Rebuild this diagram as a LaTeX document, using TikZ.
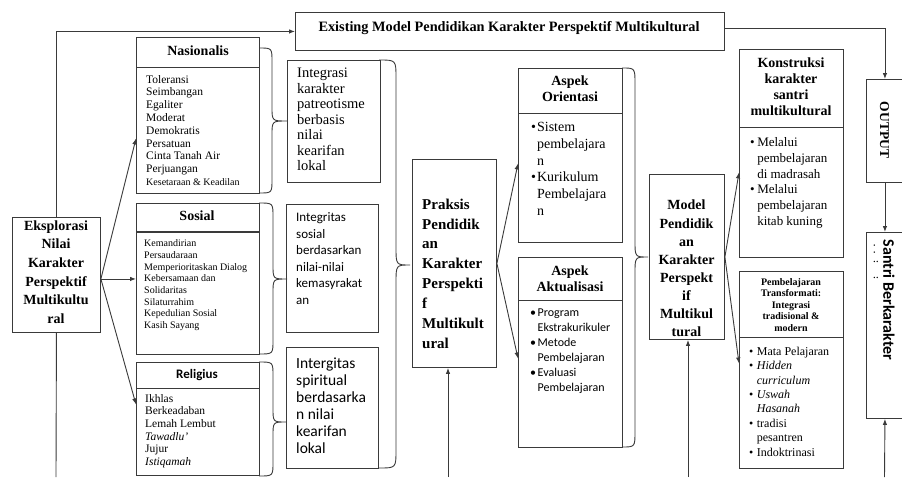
\documentclass[tikz,border=0pt]{standalone}
\usepackage{fontspec}
\setmainfont{Liberation Serif}
\newfontfamily\cali{Carlito}
\usetikzlibrary{arrows.meta}
\definecolor{linec}{HTML}{3A3A3A}
\newcommand\fs[2]{\fontsize{#1}{#2}\selectfont}
\newcommand\brc[7]{\draw[conn] (#1,#2) .. controls (#4,#2) .. (#4,#2+#7) -- (#4,#6-#7) .. controls (#4,#6) .. (#5,#6) .. controls (#4,#6) .. (#4,#6+#7) -- (#4,#3-#7) .. controls (#4,#3) .. (#1,#3);}
\begin{document}
\begin{tikzpicture}[x=1pt,y=-1pt,
  box/.style={draw=linec, line width=0.9pt, inner sep=0pt, anchor=north west},
  conn/.style={draw=linec, line width=0.9pt},
  arr/.style={conn, -{Latex[length=6pt,width=4.5pt]}},
  lst/.style={inner sep=0pt, anchor=north west, align=left},
  ttl/.style={inner sep=0pt, align=center}]
\useasboundingbox (0,0) rectangle (902,477);
\clip (0,0) rectangle (902,477);
\fill[white] (0,0) rectangle (902,477);

% boxes
\node[box, minimum width=429pt, minimum height=38pt] (exist) at (295,12) {};
\node[box, minimum width=88pt, minimum height=115pt] (eks) at (12,217) {};
\node[box, minimum width=123pt, minimum height=156pt] (nas) at (136,37) {};
\node[box, minimum width=123pt, minimum height=151pt] (sos) at (136,203) {};
\node[box, minimum width=123pt, minimum height=113pt] (rel) at (136,362) {};
\node[box, minimum width=93pt, minimum height=122pt] (int1) at (287,60) {};
\node[box, minimum width=92pt, minimum height=128pt] (int2) at (286,204) {};
\node[box, minimum width=92pt, minimum height=121pt] (int3) at (286,347) {};
\node[box, minimum width=84pt, minimum height=208pt] (prak) at (412,159) {};
\node[box, minimum width=104pt, minimum height=174pt] (aor) at (518,68) {};
\node[box, minimum width=104pt, minimum height=190pt] (aak) at (518,257) {};
\node[box, minimum width=75pt, minimum height=165pt] (model) at (649,174) {};
\node[box, minimum width=104pt, minimum height=208pt] (kon) at (739,49) {};
\node[box, minimum width=104pt, minimum height=197pt] (pem) at (739,271) {};
\node[box, minimum width=37pt, minimum height=103pt] (out) at (866,79) {};
\node[box, minimum width=37pt, minimum height=186pt] (santri) at (866,232) {};

% header dividers
\draw[conn] (136,67) -- (259,67);
\draw[draw=linec, line width=1.4pt] (136,232) -- (259,232);
\draw[conn] (136,388) -- (259,388);
\draw[conn] (518,113) -- (622,113);
\draw[conn] (518,300) -- (622,300);
\draw[conn] (739,127) -- (843,127);
\draw[conn] (739,337) -- (843,337);

% texts
\node[ttl, font=\fs{14.3}{16}\bfseries] (existT) at (509,28) {Existing Model Pendidikan Karakter Perspektif Multikultural};
\node[ttl, font=\fs{14}{18.6}\bfseries] (eksT) at (56,272) {Eksplorasi\\Nilai\\Karakter\\Perspektif\\Multikultu\\ral};
\node[ttl, font=\fs{14}{16}\bfseries] (nasT) at (198,51) {Nasionalis};
\node[lst, font=\fs{11.5}{12.8}] (nasL) at (146,75) {Toleransi\\Seimbangan\\Egaliter\\Moderat\\Demokratis\\Persatuan\\Cinta Tanah Air\\Perjuangan\\{\fs{10}{12.8}Kesetaraan \& Keadilan}};
\node[ttl, font=\fs{14}{16}\bfseries] (sosT) at (197,216) {Sosial};
\node[lst, font=\fs{10}{11.7}] (sosL) at (144,239.5) {Kemandirian\\Persaudaraan\\Memperioritaskan Dialog\\Kebersamaan dan\\Solidaritas\\Silaturrahim\\Kepedulian Sosial\\Kasih Sayang};
\node[ttl, font={\cali\fs{13}{15}\bfseries}] (relT) at (197,375) {Religius};
\node[lst, font=\fs{11.5}{12.7}] (relL) at (145,394) {Ikhlas\\Berkeadaban\\Lemah Lembut\\\textit{Tawadlu'}\\Jujur\\\textit{Istiqamah}};
\node[lst, font=\fs{14.5}{15.5}] (int1T) at (297,68) {Integrasi\\karakter\\patreotisme\\berbasis\\nilai\\kearifan\\lokal};
\node[lst, font={\cali\fs{13}{16.5}}] (int2T) at (296,212.5) {Integritas\\sosial\\berdasarkan\\nilai-nilai\\kemasyrakat\\an};
\node[lst, font={\cali\fs{15.5}{17}}] (int3T) at (296,358) {Intergitas\\spiritual\\berdasarka\\n nilai\\kearifan\\lokal};
\node[lst, font=\fs{15}{19.9}\bfseries] (prakT) at (422,198.5) {Praksis\\Pendidik\\an\\Karakter\\Perspekti\\f\\Multikult\\ural};
\node[ttl, font=\fs{14}{16}\bfseries] (aorT) at (570,89) {Aspek\\Orientasi};
\node[lst, font=\fs{14}{16.7}] (aorL) at (531,120) {\begin{tabular}{@{}l@{\hspace{1pt}}l@{}}\textbullet&Sistem\\&pembelajara\\&n\\\textbullet&Kurikulum\\&Pembelajara\\&n\end{tabular}};
\node[ttl, font=\fs{14}{16}\bfseries] (aakT) at (570,279) {Aspek\\Aktualisasi};
\node[lst, font={\cali\fs{12}{15}}] (aakL) at (530,306) {\begin{tabular}{@{}l@{\hspace{1.5pt}}l@{}}\textbullet&Program\\&Ekstrakurikuler\\\textbullet&Metode\\&Pembelajaran\\\textbullet&Evaluasi\\&Pembelajaran\end{tabular}};
\node[ttl, font=\fs{14}{18.1}\bfseries] (modelT) at (686.5,268.5) {Model\\Pendidik\\an\\Karakter\\Perspekt\\if\\Multikul\\tural};
\node[ttl, font=\fs{14}{16}\bfseries] (konT) at (791,87) {Konstruksi\\karakter\\santri\\multikultural};
\node[lst, font=\fs{13}{15.7}] (konL) at (750,135.5) {\begin{tabular}{@{}l@{\hspace{2.5pt}}l@{}}\textbullet&Melalui\\&pembelajaran\\&di madrasah\\\textbullet&Melalui\\&pembelajaran\\&kitab kuning\end{tabular}};
\node[ttl, font=\fs{10}{11.5}\bfseries] (pemT) at (791,305) {Pembelajaran\\Transformati:\\Integrasi\\tradisional \&\\modern};
\node[lst, font=\fs{12}{14.4}] (pemL) at (749,345) {\begin{tabular}{@{}l@{\hspace{3.5pt}}l@{}}\textbullet&Mata Pelajaran\\\textbullet&\textit{Hidden}\\&\textit{curriculum}\\\textbullet&\textit{Uswah}\\&\textit{Hasanah}\\\textbullet&tradisi\\&pesantren\\\textbullet&Indoktrinasi\end{tabular}};
\node[rotate=-90, inner sep=0pt, font=\fs{13.5}{16}\bfseries] (outT) at (884.5,130) {OUTPUT};
\node[rotate=-90, inner sep=0pt, font={\cali\fs{16}{18}\bfseries}] (santriT) at (889,300) {Santri Berkarakter};
\node[rotate=-90, inner sep=0pt, font=\fs{9}{10}\bfseries] (santriD) at (876,262) {.\ \ .\ \ \ :\ \ \ \ \ \ :};

% braces
\brc{259}{48}{193}{272}{287}{121}{14}
\brc{259}{203}{354}{273}{287}{279}{14}
\brc{259}{362}{476}{273}{286}{422}{14}
\brc{379}{60}{468}{396}{410}{265}{18}
\brc{622}{68}{447}{635}{648}{257}{16}

% connectors
\coordinate (eksR) at ([yshift=-4pt]eks.east);
\coordinate (bE) at (56,477);
\coordinate (bP) at (448,477);
\coordinate (bM) at (688,477);
\coordinate (bS) at (884.5,477);
\draw[arr] (eks.north) |- (exist.west);
\draw[arr] ([yshift=3pt]exist.east) -| (out.north);
\draw[arr] (out.south) -- (santri.north);
\draw[arr] (bS) -- (santri.south);
\draw[conn] (eks.south) -- (bE);
\draw[arr] (eksR) -- ([yshift=-23pt]nas.west);
\draw[arr] (eksR) -- (sos.west);
\draw[arr] (eksR) -- ([yshift=14.5pt]rel.west);
\draw[arr] (prak.east) -- ([yshift=-8pt]aor.west);
\draw[arr] (prak.east) -- ([yshift=-6pt]aak.west);
\draw[arr] (model.east) -- ([yshift=-19pt]kon.west);
\draw[arr] (model.east) -- ([yshift=6.5pt]pem.west);
\draw[arr] (bP) -- (bP |- prak.south);
\draw[arr] (bM) -- (bM |- model.south);
\end{tikzpicture}
\end{document}
